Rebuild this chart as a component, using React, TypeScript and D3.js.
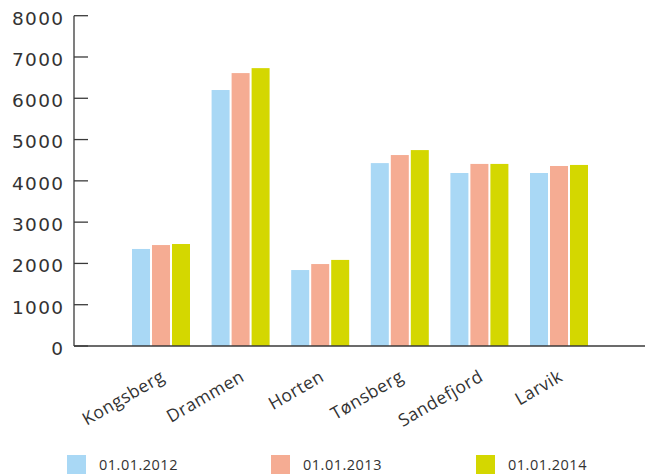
import React from "react";
import * as d3 from "d3";

const categories = ["Kongsberg", "Drammen", "Horten", "Tønsberg", "Sandefjord", "Larvik"];
const seriesNames = ["01.01.2012", "01.01.2013", "01.01.2014"];
const values2012 = [2350, 6200, 1840, 4430, 4190, 4190];
const values2013 = [2445, 6610, 1985, 4625, 4410, 4360];
const values2014 = [2470, 6730, 2085, 4745, 4410, 4385];
const yTicks = [0, 1000, 2000, 3000, 4000, 5000, 6000, 7000, 8000];
const colors = ["#A9D8F5", "#F5AC93", "#D4D700"];

const W = 645;
const H = 474;
const axisX = 74;
const baseY = 346;
const topY = 15.7;

export default function App() {
  const series = [values2012, values2013, values2014];
  const y = d3.scaleLinear().domain([0, 8000]).range([baseY, topY]);
  const x0 = d3.scaleBand<string>().domain(categories).range([121.2, 598.8]).paddingInner(0).paddingOuter(0);
  const x1 = d3.scaleBand<number>().domain([0, 1, 2]).range([0, 58]).paddingInner(0.1).paddingOuter(0);
  const groupOffset = (x0.bandwidth() - 58) / 2;
  const font = "'Open Sans', 'DejaVu Sans', sans-serif";
  const legendX = [67, 271, 476];

  return (
    <svg width={W} height={H} style={{ position: "absolute", left: 0, top: 0, background: "#fff" }}>
      {categories.map((c, ci) =>
        series.map((s, si) => (
          <rect
            key={c + si}
            x={(x0(c) as number) + groupOffset + (x1(si) as number)}
            y={y(s[ci])}
            width={x1.bandwidth()}
            height={baseY - y(s[ci])}
            fill={colors[si]}
          />
        ))
      )}
      {/* y axis */}
      <line x1={axisX} x2={axisX} y1={topY} y2={baseY} stroke="#3a3a3a" strokeWidth={1.3} />
      {yTicks.map((t) => (
        <g key={t}>
          <line x1={axisX} x2={axisX + 14} y1={y(t)} y2={y(t)} stroke="#3a3a3a" strokeWidth={1.3} />
          <text
            x={63 + 1.3}
            y={y(t) + 2.3}
            textAnchor="end"
            dominantBaseline="central"
            fontFamily="'DejaVu Sans', sans-serif"
            fontSize={18.5}
            letterSpacing={1.3}
            fill="#333"
          >
            {t}
          </text>
        </g>
      ))}
      {/* x axis */}
      <line x1={axisX} x2={W} y1={baseY} y2={baseY} stroke="#3a3a3a" strokeWidth={1.5} />
      {categories.map((c) => {
        const cx = (x0(c) as number) + x0.bandwidth() / 2 + 5;
        const cy = 380;
        return (
          <text
            key={c}
            x={cx}
            y={cy}
            textAnchor="end"
            transform={`rotate(-30, ${cx}, ${cy})`}
            fontFamily={font}
            fontSize={17.5}
            letterSpacing={0.5}
            fill="#333"
          >
            {c}
          </text>
        );
      })}
      {/* legend */}
      {seriesNames.map((n, i) => (
        <g key={n}>
          <rect x={legendX[i]} y={455} width={19} height={19} fill={colors[i]} />
          <text
            x={legendX[i] + 32}
            y={470}
            fontFamily={font}
            fontSize={14.5}
            letterSpacing={0.5}
            fill="#333"
          >
            {n}
          </text>
        </g>
      ))}
    </svg>
  );
}
